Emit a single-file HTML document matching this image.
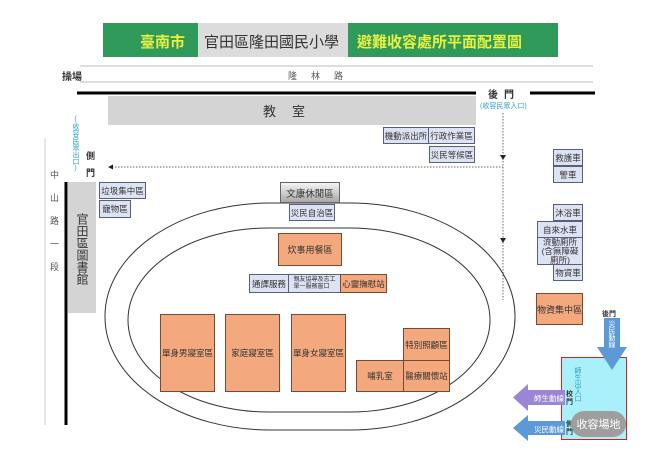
<!DOCTYPE html>
<html><head><meta charset="utf-8"><style>
*{margin:0;padding:0;box-sizing:border-box}
body{width:664px;height:470px;background:#fff;position:relative;overflow:hidden;font-family:"Liberation Sans","Noto Sans CJK TC",sans-serif;color:#333}
.a{position:absolute}
.b{position:absolute;background:#dde3f3;border:1px solid #56607a;font-size:8.5px;display:flex;align-items:center;justify-content:center;white-space:nowrap;color:#333;overflow:hidden}
.o{position:absolute;background:#f3a87e;border:1px solid #7a4a30;font-size:9px;display:flex;align-items:center;justify-content:center;white-space:nowrap;color:#333;overflow:hidden}
.v{writing-mode:vertical-rl;text-orientation:upright}
</style></head><body>
<div class="a" style="left:103px;top:23px;width:455px;height:34px;background:#2f9a5a"></div>
<div class="a" style="left:198px;top:23px;width:150px;height:34px;background:#dcdcdc"></div>
<div class="a" style="left:140px;top:31px;font-size:15px;color:#e8f040;font-weight:bold">臺南市</div>
<div class="a" style="left:204px;top:31px;font-size:15px;color:#333">官田區隆田國民小學</div>
<div class="a" style="left:357px;top:31px;font-size:15px;color:#e8f040;font-weight:bold">避難收容處所平面配置圖</div>

<svg class="a" style="left:0;top:0" width="664" height="470">
<line x1="80" y1="66" x2="593" y2="66" stroke="#bbb" stroke-width="1"/>
<line x1="80" y1="82" x2="593" y2="82" stroke="#bbb" stroke-width="1"/>
<line x1="77" y1="93" x2="476" y2="93" stroke="#000" stroke-width="3"/>
<line x1="530" y1="93" x2="595" y2="93" stroke="#000" stroke-width="3"/>
<line x1="45" y1="138" x2="45" y2="425" stroke="#ccc" stroke-width="1"/>
<line x1="66" y1="182" x2="66" y2="425" stroke="#000" stroke-width="3"/>
<line x1="503" y1="113" x2="503" y2="300" stroke="#666" stroke-width="1" stroke-dasharray="1.5,1.5"/>
<polygon points="500,155 506,155 503,160" fill="#222"/>
<polygon points="500,238 506,238 503,243" fill="#222"/>
<line x1="112" y1="167" x2="503" y2="167" stroke="#666" stroke-width="1" stroke-dasharray="1.5,1.5"/>
<polygon points="108,167 113,164.5 113,169.5" fill="#222"/>
<rect x="105" y="203" width="410" height="227" rx="165" ry="113" fill="none" stroke="#333" stroke-width="1"/>
<rect x="128" y="228" width="362" height="184" rx="140" ry="92" fill="none" stroke="#333" stroke-width="1"/>
</svg>

<div class="a" style="left:62px;top:68px;font-size:10px;font-weight:bold">操場</div>
<div class="a" style="left:288px;top:69px;font-size:9px;color:#555;letter-spacing:14px">隆林路</div>
<div class="a" style="left:108px;top:96px;width:368px;height:29px;background:#d4d4d4;display:flex;align-items:center;justify-content:center;font-size:13px;letter-spacing:16px">教室</div>
<div class="a" style="left:488px;top:86px;font-size:10px;font-weight:bold;letter-spacing:6px">後門</div>
<div class="a" style="left:480px;top:101px;font-size:7px;color:#2aa0c8">(收容民眾入口)</div>

<div class="b" style="left:383px;top:127px;width:46px;height:17px">機動派出所</div>
<div class="b" style="left:428px;top:127px;width:47px;height:17px">行政作業區</div>
<div class="b" style="left:429px;top:146px;width:46px;height:17px">災民等候區</div>
<div class="b" style="left:553px;top:149px;width:30px;height:17px">救護車</div>
<div class="b" style="left:553px;top:166px;width:30px;height:17px">警車</div>
<div class="b" style="left:553px;top:204px;width:30px;height:17px">沐浴車</div>
<div class="b" style="left:537px;top:221px;width:46px;height:17px">自來水車</div>
<div class="b" style="left:537px;top:237px;width:46px;height:28px;flex-direction:column;line-height:9px;font-size:8.5px;white-space:normal;text-align:center">流動廁所<br>(含無障礙<br>廁所)</div>
<div class="b" style="left:553px;top:264px;width:30px;height:17px">物資車</div>
<div class="o" style="left:536px;top:293px;width:47px;height:32px">物資集中區</div>

<div class="a v" style="left:48px;top:170px;font-size:9px;color:#555;line-height:12px;letter-spacing:14px">中山路一段</div>
<div class="a v" style="left:70px;top:116px;font-size:7px;color:#2aa0c8;line-height:10px">(收容民眾出口)</div>
<div class="a" style="left:86px;top:149px;font-size:9px;font-weight:bold">側</div>
<div class="a" style="left:86px;top:166px;font-size:9px;font-weight:bold">門</div>
<div class="a" style="left:68px;top:182px;width:28px;height:131px;background:#d4d4d4"></div>
<div class="a v" style="left:75px;top:213px;font-size:12px;line-height:14px">官田區圖書館</div>
<div class="b" style="left:99px;top:182px;width:47px;height:17px">垃圾集中區</div>
<div class="b" style="left:99px;top:200px;width:32px;height:18px">寵物區</div>
<div class="a" style="left:280px;top:182px;width:60px;height:21px;background:linear-gradient(#f4f4f4,#a8a8a8);border:1px solid #666;font-size:9.5px;display:flex;align-items:center;justify-content:center">文康休閒區</div>
<div class="b" style="left:289px;top:204px;width:46px;height:17px">災民自治區</div>

<div class="o" style="left:278px;top:233px;width:64px;height:33px">炊事用餐區</div>
<div class="b" style="left:249px;top:274px;width:40px;height:19px">通譯服務</div>
<div class="b" style="left:288px;top:274px;width:53px;height:19px;font-size:6px;flex-direction:column;line-height:7px">親友協尋及志工<br>單一服務窗口</div>
<div class="o" style="left:340px;top:274px;width:47px;height:19px;font-size:8.5px">心靈撫慰站</div>
<div class="o" style="left:160px;top:314px;width:55px;height:78px;font-size:8.5px">單身男寢室區</div>
<div class="o" style="left:225px;top:314px;width:55px;height:78px;font-size:8.5px">家庭寢室區</div>
<div class="o" style="left:291px;top:314px;width:55px;height:78px;font-size:8.5px">單身女寢室區</div>
<div class="o" style="left:356px;top:360px;width:48px;height:32px;font-size:8.5px">哺乳室</div>
<div class="o" style="left:403px;top:328px;width:47px;height:33px;font-size:8.5px">特別照顧區</div>
<div class="o" style="left:403px;top:360px;width:47px;height:32px;font-size:8.5px">醫療關懷站</div>

<div class="a" style="left:561px;top:357px;width:66px;height:83px;background:#aaf0fa;border:1.5px solid #d02020"></div>
<svg class="a" style="left:0;top:0" width="664" height="470">
<polygon points="604,318 620,318 620,347 627,347 612,370 597,347 604,347" fill="#5b9ad6"/>
<polygon points="528,384 528,390 565,390 565,405 528,405 528,411 513,397.5" fill="#9a86d4"/>
<polygon points="528,415 528,421 565,421 565,435 528,435 528,441 513,428" fill="#5b9ad6"/>
</svg>
<div class="a" style="left:602px;top:309px;font-size:7px;font-weight:bold">後門</div>
<div class="a v" style="left:607px;top:320px;font-size:7px;color:#fff;line-height:9px">災民動線</div>
<div class="a v" style="left:573px;top:367px;font-size:7px;color:#2aa0c8;line-height:9px">師生出入口</div>
<div class="a" style="left:566px;top:391px;font-size:7px;font-weight:bold;line-height:8px;width:8px">校門</div>
<div class="a" style="left:534px;top:393px;font-size:7.5px;color:#fff">師生動線</div>
<div class="a" style="left:534px;top:424px;font-size:7.5px;color:#fff">災民動線</div>
<div class="a" style="left:566px;top:421px;font-size:7px;font-weight:bold;line-height:8px;width:8px">側門</div>
<div class="a" style="left:571px;top:411px;width:55px;height:26px;border-radius:13px;background:#9e9e9e;color:#fff;font-size:11px;display:flex;align-items:center;justify-content:center">收容場地</div>
</body></html>
